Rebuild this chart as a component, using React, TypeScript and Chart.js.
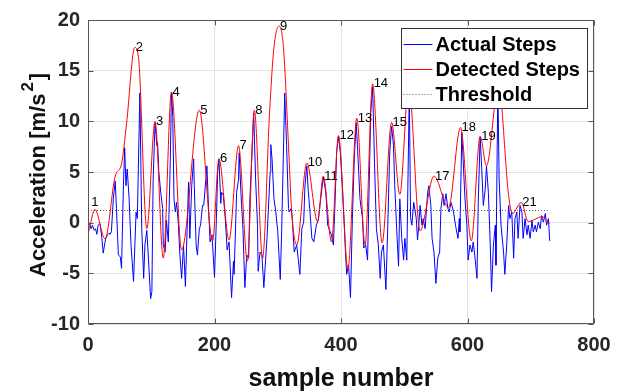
import React, { useEffect, useRef } from "react";
import { Chart, registerables } from "chart.js";

Chart.register(...registerables);

const FONT = '"Liberation Sans", Arial, Helvetica, sans-serif';

const xTicks = [0, 200, 400, 600, 800];
const yTicks = [-10, -5, 0, 5, 10, 15, 20];
const thresholdValue = 1.2;
const thresholdSpan = [0, 730];
const legendLabels = ["Actual Steps", "Detected Steps", "Threshold"];
const xTitle = "sample number";
const yTitleMain = "Acceleration [m/s";
const yTitleSup = "2";
const yTitleEnd = "]";

// [sample, acceleration]
const actualSteps: [number, number][] = [
  [2, 0.0], [5, -0.6], [7, -0.25], [10, -0.75], [12, -0.6], [14, -1.15], [16, -0.25], [19, -0.1], [22, -1.55], [24, -3.0],
  [28, -1.55], [31, -1.2], [33, -1.05], [35, -1.15], [37, -0.9], [40, 2.35], [43, 4.1], [45, 1.4], [48, -3.2], [51, -3.35],
  [53, -4.5], [56, 3.65], [58, 7.4], [60, 3.65], [62, 5.3], [65, 2.35], [68, -2.2], [72, -5.8], [76, 1.05], [78, 0.4],
  [82, 12.8], [85, -0.6], [88, -5.5], [90, -2.2], [93, -0.75], [95, -2.9], [99, -7.5], [101, -6.8], [103, 4.3], [106, 9.85],
  [109, 7.6], [110, 7.9], [112, 5.0], [115, 3.0], [118, 1.4], [119, -2.2], [122, -2.9], [124, 0.25], [127, -1.9], [130, 5.9],
  [132, 12.9], [134, 10.5], [136, 2.35], [138, 1.05], [140, 2.0], [143, -0.25], [145, -2.9], [148, -5.5], [151, -2.2], [154, -6.3],
  [159, 4.0], [161, -1.55], [164, 3.65], [167, 6.3], [168, 3.65], [171, -2.2], [173, -3.2], [176, -0.6], [178, -0.25], [181, 1.7],
  [183, 1.7], [188, 5.6], [190, 2.35], [193, -1.9], [196, -1.2], [200, -5.4], [203, 0.4], [205, 5.0], [207, 6.3], [210, 1.9],
  [211, 3.0], [214, 2.7], [217, 0.4], [220, -2.7], [223, -1.9], [227, -7.4], [230, -3.8], [231, -5.1], [235, 3.0], [238, 4.3],
  [239, 6.9], [242, 2.7], [245, -0.6], [248, -6.4], [251, -3.2], [254, -3.5], [256, 2.35], [259, 6.6], [262, 10.8], [265, 4.3],
  [268, -0.25], [269, -4.8], [272, -2.9], [275, -3.2], [278, -6.4], [283, -1.55], [285, 1.05], [288, 5.0], [289, 7.7], [291, 6.3],
  [294, 2.35], [297, 1.05], [300, -0.9], [304, -5.6], [306, -1.4], [311, 12.8], [314, 7.6], [317, 1.4], [318, 1.05], [321, 1.4],
  [323, 0.4], [326, -2.9], [330, -2.2], [335, -5.1], [338, -0.6], [341, 0.05], [343, 3.65], [346, 5.6], [348, 3.3], [351, 1.05],
  [354, -1.55], [357, -1.9], [361, -0.25], [364, 0.25], [367, 1.9], [372, 4.5], [376, 3.0], [379, -0.25], [383, -0.9], [385, -1.2],
  [388, -2.2], [391, 2.7], [393, 6.9], [396, 8.5], [399, 6.9], [402, 3.65], [405, 0.0], [407, -2.8], [409, -5.1], [412, -4.2],
  [415, -7.4], [418, 0.4], [421, 6.3], [424, 9.85], [426, 7.6], [430, 2.35], [434, 0.4], [436, -2.5], [439, -2.2], [442, -3.7],
  [445, 5.0], [447, 10.8], [450, 13.4], [453, 5.9], [456, -0.6], [459, -2.2], [462, -5.5], [464, -2.9], [467, -2.2], [471, -6.6],
  [474, -0.25], [477, 6.9], [480, 9.5], [483, 7.6], [485, 3.65], [488, -0.6], [491, -4.3], [493, 2.35], [496, -1.55], [499, -3.7],
  [501, -1.55], [504, -3.7], [508, 13.0], [510, 0.5], [512, -0.25], [515, 2.0], [519, 0.4], [521, -1.7], [523, -0.25], [525, 1.7],
  [528, -0.25], [530, 0.4], [533, -0.6], [537, 3.0], [539, 3.65], [542, 1.7], [544, -1.55], [547, -2.9], [550, -6.0], [553, -3.5],
  [556, -2.9], [558, 1.4], [561, 2.85], [563, 1.7], [566, 2.85], [569, 1.4], [571, 1.05], [574, 2.0], [578, 1.05], [581, -0.25],
  [585, -1.55], [587, 0.4], [588, -0.9], [591, 8.9], [593, 6.3], [596, 2.35], [599, -0.25], [601, -3.7], [604, -2.2], [607, -2.9],
  [609, -1.9], [612, -3.5], [615, -5.5], [617, 2.0], [620, 8.5], [622, 6.0], [625, 1.7], [628, 3.3], [630, 5.6], [633, 3.0],
  [636, -2.2], [638, -6.8], [641, -2.2], [644, -0.25], [645, -4.2], [648, 13.5], [650, 4.3], [653, -0.25], [657, -2.9], [659, -5.1],
  [662, -2.2], [665, 1.7], [667, 0.4], [670, 1.05], [673, -3.5], [675, 0.4], [678, 1.05], [680, -1.55], [683, 1.7], [686, 1.05],
  [688, -1.55], [691, 0.4], [694, -1.2], [696, -0.25], [699, -1.55], [702, 0.25], [704, -0.9], [707, -0.25], [709, -0.9], [712, 0.05],
  [715, -0.6], [717, 0.7], [720, 0.05], [723, 0.9], [725, -0.25], [728, 0.4], [730, -1.8],
];

// [sample, acceleration]
const detectedSteps: [number, number][] = [
  [1, -0.9], [11, 1.3], [27, -1.6], [43, 4.6], [53, 5.8], [61, 9.8], [74, 17.3], [80, 16.2], [93, -0.6], [106, 10.0],
  [119, -3.5], [132, 12.9], [148, -2.7], [176, 11.1], [197, -1.8], [207, 6.3], [223, -1.7], [238, 7.6], [252, -3.8], [263, 11.1],
  [276, -3.5], [287, 10.8], [294, 17.3], [302, 19.4], [309, 17.3], [317, 7.6], [322, 1.1], [330, -2.2], [346, 5.9], [363, 0.1],
  [372, 4.6], [385, -1.9], [396, 8.6], [411, -4.6], [425, 10.3], [438, -2.2], [450, 13.7], [465, -2.0], [480, 9.9], [493, 2.8],
  [507, 13.5], [525, -0.8], [547, 4.6], [570, 1.5], [589, 9.4], [606, -1.8], [620, 8.5], [630, 5.6], [649, 13.5], [665, 2.7],
  [671, 0.9], [685, 2.0], [696, 0.1], [718, 0.6], [730, -0.1],
];

const peakSamples = [11, 74, 106, 132, 176, 207, 238, 263, 302, 346, 372, 396, 425, 450, 480, 507, 547, 589, 620, 649, 685];

const overlayPlugin = {
  id: "overlay",
  afterDatasetsDraw(chart: any) {
    const { ctx, chartArea: a, scales } = chart;
    const xs = scales.x;
    const ys = scales.y;
    ctx.save();

    // peak labels
    ctx.font = `13px ${FONT}`;
    ctx.fillStyle = "#000";
    ctx.textAlign = "left";
    ctx.textBaseline = "middle";
    peakSamples.forEach((s, i) => {
      const p = detectedSteps.find((d) => d[0] === s);
      if (!p) return;
      const px = xs.getPixelForValue(s);
      const py = ys.getPixelForValue(p[1]);
      if (i === 0) {
        ctx.textAlign = "center";
        ctx.fillText(String(i + 1), px, py - 7);
        ctx.textAlign = "left";
      } else {
        ctx.fillText(String(i + 1), px + 1, py);
      }
    });

    // axes box
    const L = Math.round(a.left) + 0.5;
    const R = Math.round(a.right) - 0.5;
    const T = Math.round(a.top) + 0.5;
    const B = Math.round(a.bottom) - 0.5;
    ctx.strokeStyle = "#555";
    ctx.lineWidth = 1;
    ctx.setLineDash([]);
    ctx.beginPath();
    ctx.rect(L, T, R - L, B - T);
    ctx.stroke();
    ctx.beginPath();
    xTicks.forEach((v) => {
      const px = Math.round(xs.getPixelForValue(v)) + 0.5;
      ctx.moveTo(px, B);
      ctx.lineTo(px, B - 5);
      ctx.moveTo(px, T);
      ctx.lineTo(px, T + 5);
    });
    yTicks.forEach((v) => {
      const py = Math.round(ys.getPixelForValue(v)) + 0.5;
      ctx.moveTo(L, py);
      ctx.lineTo(L + 5, py);
      ctx.moveTo(R, py);
      ctx.lineTo(R - 5, py);
    });
    ctx.stroke();

    // legend
    const bw = 186;
    const bh = 80;
    const bx = Math.round(a.right - 193) + 0.5;
    const by = Math.round(a.top + 8) + 0.5;
    ctx.fillStyle = "#fff";
    ctx.fillRect(bx, by, bw, bh);
    ctx.strokeStyle = "#333";
    ctx.lineWidth = 1;
    ctx.strokeRect(bx, by, bw, bh);
    const colors = ["#0000ff", "#ff0000", "#333"];
    ctx.font = `bold 20px ${FONT}`;
    ctx.textAlign = "left";
    ctx.textBaseline = "middle";
    legendLabels.forEach((lab, i) => {
      const ry = by + 16 + i * 25;
      ctx.beginPath();
      ctx.strokeStyle = colors[i];
      ctx.lineWidth = i === 2 ? 0.8 : 1;
      ctx.setLineDash(i === 2 ? [1, 2] : []);
      ctx.moveTo(bx + 2, ry);
      ctx.lineTo(bx + 31, ry);
      ctx.stroke();
      ctx.setLineDash([]);
      ctx.fillStyle = "#000";
      ctx.fillText(lab, bx + 34, ry + 1);
    });

    // axis titles
    ctx.fillStyle = "#111";
    ctx.font = `bold 25px ${FONT}`;
    ctx.textAlign = "center";
    ctx.textBaseline = "middle";
    ctx.fillText(xTitle, (a.left + a.right) / 2, a.bottom + 55);

    ctx.translate(a.left - 43, a.bottom - 47);
    ctx.rotate(-Math.PI / 2);
    ctx.textAlign = "left";
    ctx.textBaseline = "alphabetic";
    ctx.font = `bold 22px ${FONT}`;
    ctx.fillText(yTitleMain, 0, 0);
    const w = ctx.measureText(yTitleMain).width;
    ctx.font = `bold 17px ${FONT}`;
    ctx.fillText(yTitleSup, w + 2, -12);
    const w2 = ctx.measureText(yTitleSup).width;
    ctx.font = `bold 22px ${FONT}`;
    ctx.fillText(yTitleEnd, w + 2 + w2 + 2, 0);

    ctx.restore();
  },
};

export default function App() {
  const canvasRef = useRef<HTMLCanvasElement | null>(null);

  useEffect(() => {
    document.body.style.margin = "0";
    const canvas = canvasRef.current;
    if (!canvas) return;
    const tickFont = { family: FONT, size: 20, weight: "bold" as const };
    const chart = new Chart(canvas, {
      type: "line",
      data: {
        datasets: [
          {
            label: legendLabels[0],
            data: actualSteps.map(([x, y]) => ({ x, y })),
            borderColor: "#0000ff",
            borderWidth: 1,
            pointRadius: 0,
            tension: 0,
            order: 3,
          },
          {
            label: legendLabels[1],
            data: detectedSteps.map(([x, y]) => ({ x, y })),
            borderColor: "#ff0000",
            borderWidth: 1,
            pointRadius: 0,
            cubicInterpolationMode: "monotone",
            order: 2,
          },
          {
            label: legendLabels[2],
            data: thresholdSpan.map((x) => ({ x, y: thresholdValue })),
            borderColor: "#333",
            borderWidth: 0.8,
            borderDash: [1, 2],
            pointRadius: 0,
            order: 1,
          },
        ],
      },
      options: {
        animation: false,
        responsive: false,
        devicePixelRatio: 1,
        layout: { padding: { top: 16, right: 28, left: 0, bottom: 0 } },
        plugins: { legend: { display: false }, tooltip: { enabled: false } },
        elements: { point: { radius: 0 } },
        scales: {
          x: {
            type: "linear",
            min: 0,
            max: 800,
            afterBuildTicks: (s: any) => {
              s.ticks = xTicks.map((v) => ({ value: v }));
            },
            afterFit: (s: any) => {
              s.height = 68;
            },
            grid: { color: "#e2e2e2", drawTicks: false, lineWidth: 1 },
            border: { display: false },
            ticks: { padding: 9, font: tickFont, color: "#262626", maxRotation: 0, autoSkip: false },
          },
          y: {
            type: "linear",
            min: -10,
            max: 20,
            afterBuildTicks: (s: any) => {
              s.ticks = yTicks.map((v) => ({ value: v }));
            },
            afterFit: (s: any) => {
              s.width = 88;
            },
            grid: { color: "#e2e2e2", drawTicks: false, lineWidth: 1 },
            border: { display: false },
            ticks: { padding: 8, font: tickFont, color: "#262626", autoSkip: false },
          },
        },
      },
      plugins: [overlayPlugin],
    });
    return () => chart.destroy();
  }, []);

  return (
    <div style={{ width: 622, height: 392 }}>
      <canvas ref={canvasRef} width={622} height={392} style={{ display: "block" }} />
    </div>
  );
}
